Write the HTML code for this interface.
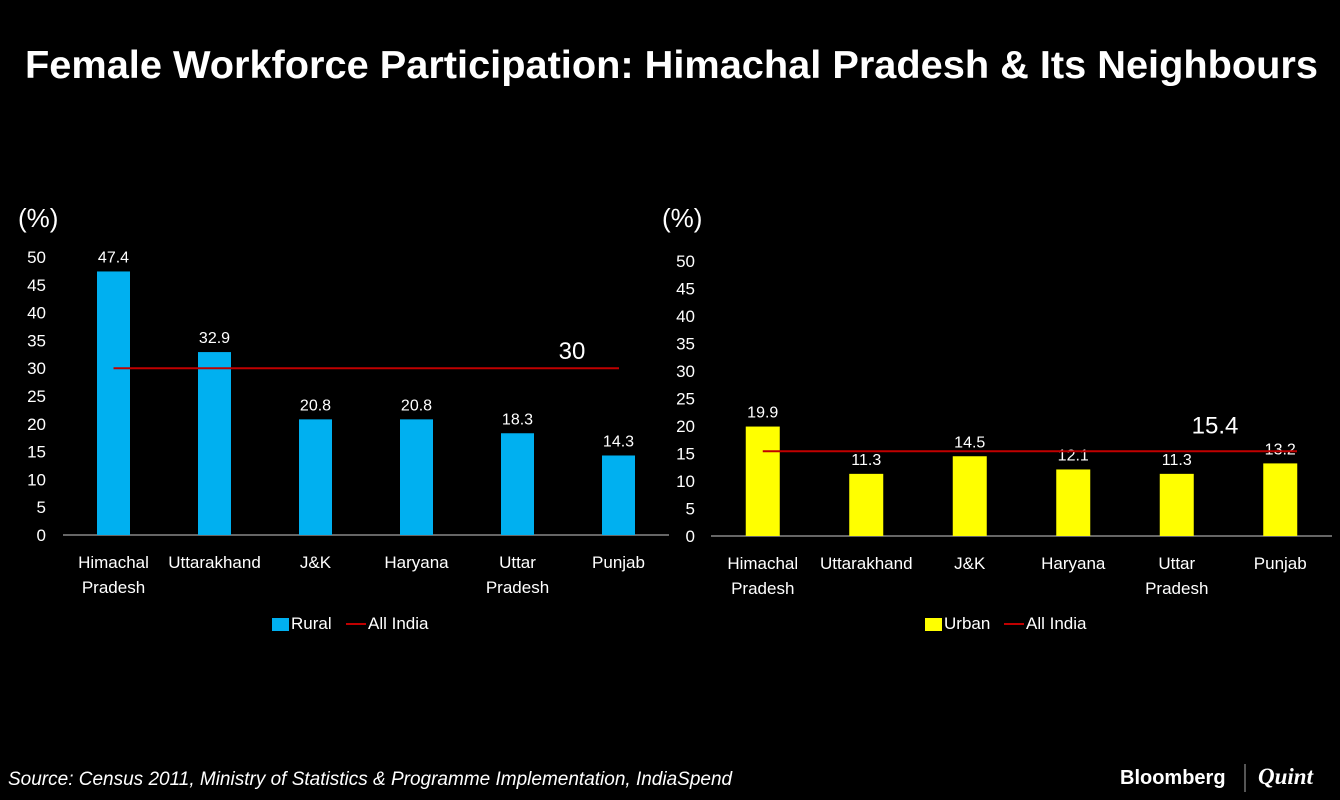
<!DOCTYPE html>
<html><head><meta charset="utf-8"><style>
html,body{margin:0;padding:0;background:#000;width:1340px;height:800px;overflow:hidden;font-family:"Liberation Sans",sans-serif}
</style></head><body>
<svg id="s" width="1340" height="800" xmlns="http://www.w3.org/2000/svg">
<text x="25" y="78" textLength="1293" lengthAdjust="spacingAndGlyphs" fill="#fff" font-size="39" font-weight="bold">Female Workforce Participation: Himachal Pradesh &amp; Its Neighbours</text>
<text x="8" y="785" fill="#fff" font-size="19" font-style="italic">Source: Census 2011, Ministry of Statistics &amp; Programme Implementation, IndiaSpend</text>
<g>
<text x="1120" y="784" fill="#fff" font-size="20" font-weight="bold">Bloomberg</text>
<line x1="1245" y1="764" x2="1245" y2="792" stroke="#aaa" stroke-width="1"/>
<text x="1258" y="784" fill="#fff" font-size="23" font-style="italic" font-family="Liberation Serif,serif" font-weight="bold">Quint</text>
</g>
</svg>
<script>
const categories=[["Himachal","Pradesh"],["Uttarakhand"],["J&K"],["Haryana"],["Uttar","Pradesh"],["Punjab"]];
const ruralValues=[47.4,32.9,20.8,20.8,18.3,14.3];
const urbanValues=[19.9,11.3,14.5,12.1,11.3,13.2];
const ruralAllIndia=30;
const urbanAllIndia=15.4;
const yTicks=[0,5,10,15,20,25,30,35,40,45,50];
const NS="http://www.w3.org/2000/svg";
const svg=document.getElementById('s');
function mk(t,a,txt){const e=document.createElementNS(NS,t);for(const k in a)e.setAttribute(k,a[k]);if(txt!==undefined)e.textContent=txt;svg.appendChild(e);return e;}
function chart(cfg){
  const y=v=>cfg.y0-(cfg.y0-cfg.y50)*v/50;
  const step=(cfg.x1-cfg.x0)/categories.length;
  const x=i=>cfg.x0+step*(i+0.5);
  let e=mk('text',{x:cfg.pctX,y:cfg.pctY,fill:'#fff','font-size':26},'(%)');
  
  
  yTicks.forEach(t=>{
    const l=mk('text',{x:cfg.tickX,y:y(t)+6,fill:'#fff','font-size':17,'text-anchor':'end'},String(t));
    
    
  });
  const ax=mk('line',{x1:cfg.x0,x2:cfg.x1,y1:cfg.y0,y2:cfg.y0,stroke:'#888','stroke-width':1.5});
  
  
  cfg.vals.forEach((v,i)=>{
    const b=mk('rect',{x:x(i)-cfg.bw/2,y:y(v),width:cfg.bw,height:cfg.y0-y(v),fill:cfg.color});
    
    
    const lb=mk('text',{x:x(i),y:y(v)-9,fill:'#fff','font-size':16,'text-anchor':'middle'},v.toFixed(1));
    
    
    categories[i].forEach((ln,j)=>{
      const c=mk('text',{x:x(i),y:cfg.y0+33+j*25,fill:'#fff','font-size':17,'text-anchor':'middle'},ln);
      
      
    });
  });
  const rl=mk('line',{x1:x(0),x2:cfg.lineEnd,y1:y(cfg.avg),y2:y(cfg.avg),stroke:'#c00000','stroke-width':2});
  
  
  const al=mk('text',{x:cfg.avgX,y:y(cfg.avg)+cfg.avgDy,fill:'#fff','font-size':24,'text-anchor':'middle'},String(cfg.avg));
  
  
  const lx=cfg.legX,ly=629;
  const sw=mk('rect',{x:lx,y:ly-11,width:17,height:13,fill:cfg.color});
  
  
  const lt=mk('text',{x:lx+19,y:ly,fill:'#fff','font-size':17},cfg.name);
  
  
  const ll=mk('line',{x1:cfg.legX2,x2:cfg.legX2+20,y1:ly-5,y2:ly-5,stroke:'#c00000','stroke-width':2});
  
  
  const lt2=mk('text',{x:cfg.legX2+22,y:ly,fill:'#fff','font-size':17},'All India');
  
  
}
chart({p:'rural',vals:ruralValues,avg:ruralAllIndia,color:'#00b0f0',name:'Rural',x0:63,x1:669,y0:535,y50:257,bw:33,tickX:46,pctX:18,pctY:227,lineEnd:619,avgX:572,avgDy:-9,legX:272,legX2:346});
chart({p:'urban',vals:urbanValues,avg:urbanAllIndia,color:'#ffff00',name:'Urban',x0:711,x1:1332,y0:536,y50:261,bw:34,tickX:695,pctX:662,pctY:227,lineEnd:1297,avgX:1215,avgDy:-18,legX:925,legX2:1004});
</script>
</body></html>
